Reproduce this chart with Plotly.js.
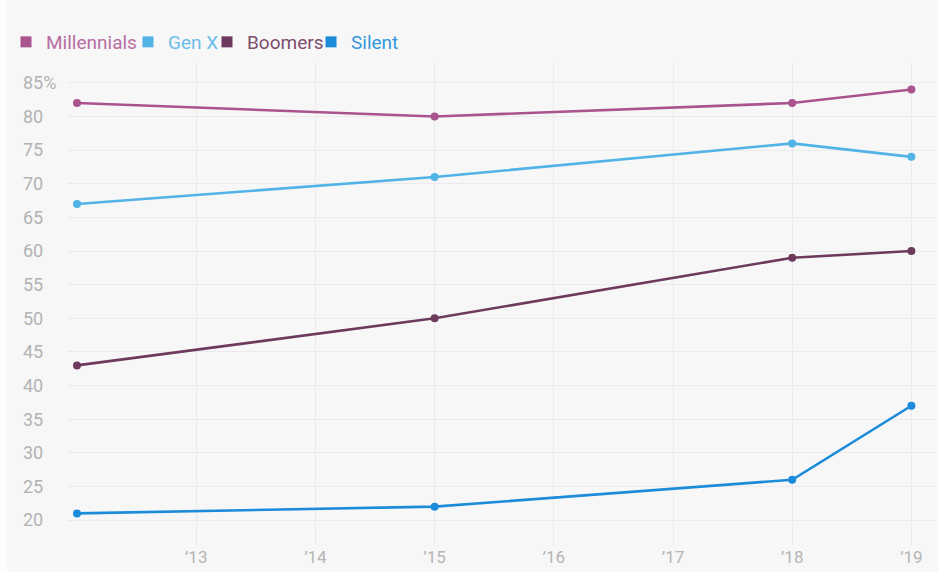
<!DOCTYPE html>
<html>
<head>
<meta charset="utf-8">
<script src="https://cdn.plot.ly/plotly-3.0.1.min.js"></script>
<style>
  html, body { margin: 0; padding: 0; background: #fdfdfd; }
  #chart { position: absolute; left: 7px; top: 0; width: 931px; height: 572px; }
</style>
</head>
<body>
<div id="chart"></div>
<script>
// Survey years
const years = [2012, 2015, 2018, 2019];

// Share by generation (%)
const millennials = [82, 80, 82, 84];
const genX        = [67, 71, 76, 74];
const boomers     = [43, 50, 59, 60];
const silent      = [21, 22, 26, 37];

// Series names and colours
const seriesNames  = ["Millennials", "Gen X", "Boomers", "Silent"];
const seriesColors = ["#a9548f", "#52b3e6", "#6d3a5d", "#1c8bd9"];
const labelColors  = ["#b86ca1", "#6bbde9", "#7d4d6e", "#3597dd"];

// Axis ticks
const xTickVals = [2013, 2014, 2015, 2016, 2017, 2018, 2019];
const xTickText = ["’13", "’14", "’15", "’16", "’17", "’18", "’19"];
const yTickVals = [20, 25, 30, 35, 40, 45, 50, 55, 60, 65, 70, 75, 80, 85];
const yTickText = ["20", "25", "30", "35", "40", "45", "50", "55", "60", "65", "70", "75", "80", "85%"];

const values = [millennials, genX, boomers, silent];
const legendIds = ["legend", "legend2", "legend3", "legend4"];
// left edge of each legend box, as a fraction of the plot width
const legendX = [-0.0715, 0.0692, 0.1603, 0.2803];

const traces = [];
values.forEach((v, i) => {
  traces.push({
    x: years, y: v,
    type: "scatter", mode: "lines+markers",
    line: { color: seriesColors[i], width: 2.6 },
    marker: { color: seriesColors[i], size: 8 },
    showlegend: false, hoverinfo: "x+y"
  });
});
// Square legend keys, one legend box per series
seriesNames.forEach((name, i) => {
  traces.push({
    x: [null], y: [null],
    type: "scatter", mode: "markers",
    marker: { color: seriesColors[i], size: 11, symbol: "square" },
    name: '<span style="color:' + labelColors[i] + '">' + name + '</span>',
    legend: legendIds[i],
    showlegend: true
  });
});

const layout = {
  width: 931, height: 572,
  margin: { l: 61, r: 3, t: 62, b: 27, autoexpand: false },
  paper_bgcolor: "#f7f7f8",
  plot_bgcolor: "#f7f7f8",
  font: { family: "Roboto, 'Open Sans', sans-serif", color: "#b3b3b3", size: 16 },
  showlegend: true,
  xaxis: {
    range: [2011.9245, 2019.198],
    tickvals: xTickVals, ticktext: xTickText,
    showgrid: true, gridcolor: "#ebebed", gridwidth: 1,
    zeroline: false, showline: false, ticks: "",
    tickfont: { size: 17, color: "#b5b5b5" },
    fixedrange: true
  },
  yaxis: {
    range: [16.3, 88.1],
    tickvals: yTickVals, ticktext: yTickText,
    showgrid: true, gridcolor: "#ebebed", gridwidth: 1,
    zeroline: false, showline: false, ticks: "",
    ticklabelposition: "inside",
    ticklabelstandoff: -48,
    ticklabeloverflow: "allow",
    tickfont: { size: 18, color: "#b3b3b3" },
    fixedrange: true
  }
};

legendIds.forEach((id, i) => {
  layout[id] = {
    orientation: "h",
    x: legendX[i], xanchor: "left",
    y: 1.0414, yanchor: "middle",
    font: { size: 19, family: "Roboto, sans-serif" },
    bgcolor: "rgba(0,0,0,0)",
    itemwidth: 30
  };
});

Plotly.newPlot("chart", traces, layout, { displayModeBar: false, staticPlot: true });
</script>
</body>
</html>
